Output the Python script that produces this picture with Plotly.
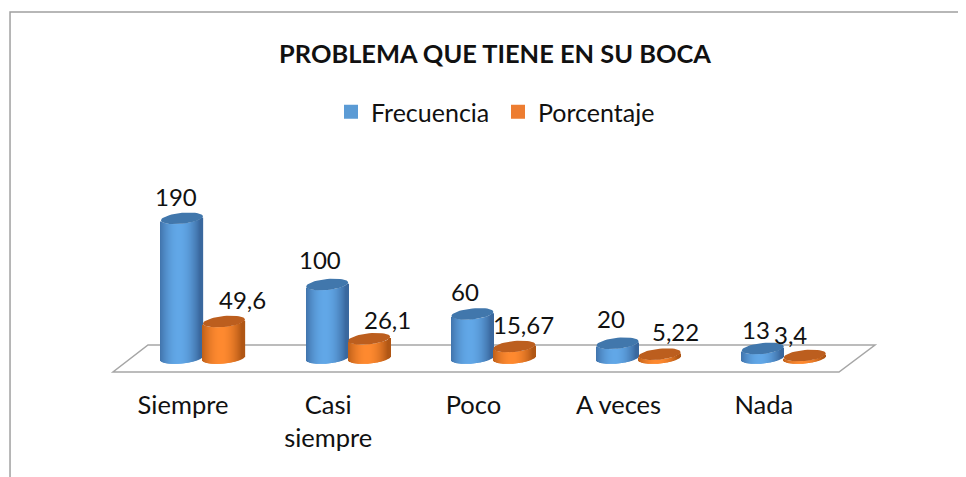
import numpy as np
import plotly.graph_objects as go

categorias = ["Siempre", "Casi<br>siempre", "Poco", "A veces", "Nada"]
frecuencia = [190, 100, 60, 20, 13]
porcentaje = [49.6, 26.1, 15.67, 5.22, 3.4]

FONT = "Lato"
TEXT = "#111111"

# la pagina deja 8 px de margen en el body, se descuenta de todo
PAD = 8
W, H = 966, 477
MB = 98
# escala: 145.2 px por categoria, 0.735 px por unidad
PX_X = 145.2
PX_Y = 0.735
X0, Y0 = 182 - PAD, 358 - PAD
RADIO = 21 / PX_X
OFFSET = 42 / PX_X
SEMI_Y = 5.5 / PX_Y
TILT = 2 / PX_Y


def px_x(p):
    return (p - X0) / PX_X


def px_y(p):
    return (Y0 - p) / PX_Y


def rampa(u, borde, centro):
    # u de -1 a 1, mas claro un poco a la izquierda del centro
    k = max(0.0, 1 - abs(u + 0.1) ** 1.9)
    c = [int(b + (a - b) * k) for a, b in zip(centro, borde)]
    return "rgb(%d,%d,%d)" % tuple(c)


def cuerpos(valores, desplaza, borde, centro, nombre):
    n = 42
    us = (np.arange(n) + 0.5) / n * 2 - 1
    xs, ys, bases, colores = [], [], [], []
    for i, v in enumerate(valores):
        for u in us:
            xs.append(i + desplaza + u * RADIO)
            ys.append(v)
            bases.append(-SEMI_Y * np.sqrt(1 - u**2) + TILT * u)
            colores.append(rampa(u, borde, centro))
    return go.Bar(
        x=xs,
        y=ys,
        base=bases,
        width=RADIO * 2 / n * 1.3,
        marker=dict(color=colores, line=dict(width=0)),
        name=nombre,
        showlegend=False,
        hoverinfo="skip",
    )


def tapas(valores, desplaza, color, nombre):
    t = np.linspace(0, 2 * np.pi, 49)
    xs, ys = [], []
    for i, v in enumerate(valores):
        xs += list(i + desplaza + RADIO * np.cos(t)) + [None]
        ys += list(v + SEMI_Y * np.sin(t) + TILT * np.cos(t)) + [None]
    return go.Scatter(
        x=xs,
        y=ys,
        mode="lines",
        fill="toself",
        fillcolor=color,
        line=dict(width=0, color=color),
        name=nombre,
        showlegend=False,
        hoverinfo="skip",
    )


fig = go.Figure()
fig.add_trace(cuerpos(frecuencia, 0, (58, 104, 158), (98, 168, 232), "Frecuencia"))
fig.add_trace(cuerpos(porcentaje, OFFSET, (176, 86, 20), (255, 138, 48), "Porcentaje"))
fig.add_trace(tapas(frecuencia, 0, "#4177AC", "Frecuencia"))
fig.add_trace(tapas(porcentaje, OFFSET, "#BC5E1E", "Porcentaje"))

# solo para la leyenda
for nombre, color in [("Frecuencia", "#5B9BD5"), ("Porcentaje", "#ED7D31")]:
    fig.add_trace(
        go.Scatter(
            x=[None],
            y=[None],
            mode="markers",
            name=nombre,
            marker=dict(symbol="square", size=14, color=color),
        )
    )

# etiquetas de datos
dx_frec = [-6, -7, -7, -7, -7]
dy_frec = [22, 25, 22, 25, 19]
dx_porc = [18, 18, 9, 16, -14]
dy_porc = [22, 19, 22, 23, 21]
for i, v in enumerate(frecuencia):
    fig.add_annotation(
        x=i, y=v, text=str(v), showarrow=False, xshift=dx_frec[i], yshift=dy_frec[i]
    )
for i, v in enumerate(porcentaje):
    fig.add_annotation(
        x=i + OFFSET,
        y=v,
        text=str(v).replace(".", ","),
        showarrow=False,
        xshift=dx_porc[i],
        yshift=dy_porc[i],
    )

# piso
piso = [(113, 372), (839, 372), (875, 345), (148, 345)]
path = "M " + " L ".join(f"{px_x(a - PAD):.4f} {px_y(b - PAD):.2f}" for a, b in piso) + " Z"
fig.add_shape(
    type="path", path=path, xref="x", yref="y", layer="below",
    line=dict(color="#A6A6A6", width=1.5),
)

# marco
alto = H - MB
marco = "M %.4f %.4f L %.4f %.4f L %.4f %.4f" % (
    (10 - PAD) / W, -MB / alto, (10 - PAD) / W, (alto - 12 + PAD) / alto, 1, (alto - 12 + PAD) / alto,
)
fig.add_shape(
    type="path", path=marco, xref="paper", yref="paper", layer="below",
    line=dict(color="#A0A0A0", width=1.5),
)

fig.update_layout(
    width=W,
    height=H,
    margin=dict(l=0, r=0, t=0, b=MB),
    paper_bgcolor="white",
    plot_bgcolor="white",
    barmode="overlay",
    font=dict(family=FONT, size=24, color=TEXT),
    title=dict(
        text="<b>PROBLEMA QUE TIENE EN SU BOCA</b>",
        x=(495 - PAD) / W,
        xanchor="center",
        y=1 - (54 - PAD) / H,
        yanchor="middle",
        font=dict(family=FONT, size=25.4, color=TEXT),
    ),
    legend=dict(
        orientation="h",
        x=(331 - PAD) / W,
        xanchor="left",
        y=1 - (112 - PAD) / alto,
        yanchor="middle",
        entrywidth=122,
        entrywidthmode="pixels",
        font=dict(family=FONT, size=25, color=TEXT),
    ),
    xaxis=dict(
        range=[px_x(0), px_x(W)],
        tickmode="array",
        tickvals=[i + 1.0 / PX_X for i in range(len(categorias))],
        ticktext=categorias,
        tickfont=dict(family=FONT, size=25.5, color=TEXT),
        showgrid=False,
        zeroline=False,
        showline=False,
        ticks="",
    ),
    yaxis=dict(
        range=[px_y(alto), px_y(0)],
        visible=False,
        showgrid=False,
        zeroline=False,
    ),
)

fig.write_html("out.html")
